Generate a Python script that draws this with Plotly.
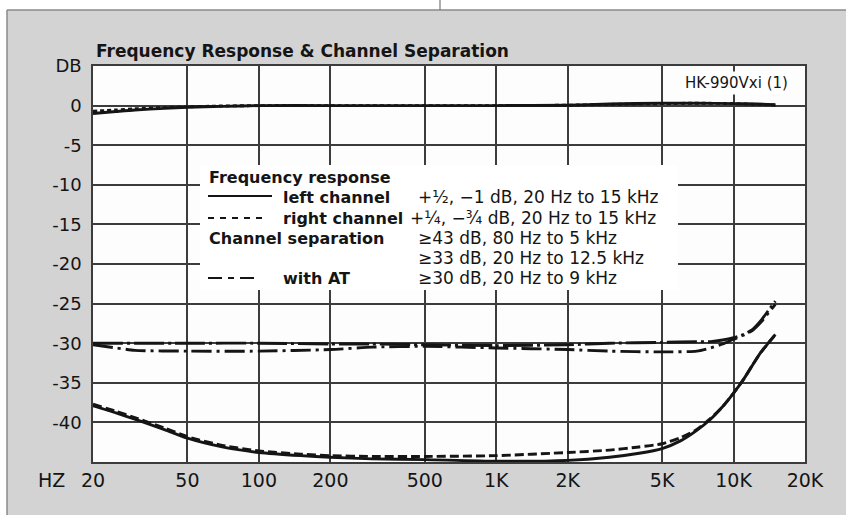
import plotly.graph_objects as go

# ---------------- data ----------------
fr_freq = [20, 25, 30, 40, 50, 70, 100, 200, 500, 1000, 2000, 3000, 5000, 7000, 10000, 12500, 15000]
fr_left = [-1.0, -0.75, -0.55, -0.35, -0.2, -0.1, 0, 0, 0, 0, 0.05, 0.2, 0.3, 0.3, 0.25, 0.2, 0.1]
fr_right = [-0.7, -0.55, -0.4, -0.25, -0.15, -0.05, 0, 0, 0, 0, 0.05, 0.15, 0.25, 0.3, 0.25, 0.15, 0.05]

sep_freq = [20, 25, 30, 40, 50, 70, 100, 150, 200, 300, 500, 1000, 2000, 3000, 4000, 5000,
            6000, 7000, 8000, 9000, 10000, 11000, 12000, 13000, 14000, 15000]
sep_left = [-37.9, -38.8, -39.6, -40.9, -42.0, -43.1, -43.8, -44.2, -44.4, -44.6, -44.7, -44.9,
            -44.8, -44.4, -43.9, -43.3, -42.3, -41.0, -39.6, -38.0, -36.3, -34.6, -32.8, -31.2, -30.0, -28.9]
sep_right = [-37.7, -38.6, -39.4, -40.7, -41.8, -42.9, -43.6, -44.0, -44.2, -44.3, -44.3, -44.2,
             -43.8, -43.5, -43.1, -42.7, -41.9, -40.9, -39.5, -38.0, -36.3, -34.6, -32.8, -31.2, -30.0, -28.9]

at_freq = [20, 25, 30, 50, 100, 200, 300, 500, 1000, 2000, 3000, 5000, 7000, 8000, 9000,
           10000, 11000, 12000, 13000, 14000, 15000]
at_upper = [-30.0, -30.0, -30.0, -30.0, -30.0, -30.1, -30.1, -30.2, -30.3, -30.2, -30.0, -29.9,
            -29.8, -29.8, -29.6, -29.3, -28.9, -28.3, -27.2, -25.9, -24.7]
at_lower = [-30.2, -30.6, -30.9, -31.0, -31.0, -30.8, -30.5, -30.4, -30.6, -30.8, -31.0, -31.1,
            -31.0, -30.6, -30.1, -29.5, -29.0, -28.4, -27.4, -26.2, -25.1]

x_ticks = [20, 50, 100, 200, 500, 1000, 2000, 5000, 10000, 20000]
x_labels = ["20", "50", "100", "200", "500", "1K", "2K", "5K", "10K", "20K"]
y_ticks = [5, 0, -5, -10, -15, -20, -25, -30, -35, -40]
y_labels = ["DB", "0", "-5", "-10", "-15", "-20", "-25", "-30", "-35", "-40"]

title_text = "Frequency Response &amp; Channel Separation"
model_text = "HK-990Vxi (1)"

# ---------------- geometry helpers (pixel -> paper) ----------------
W, H = 846, 515
L, R, T, B = 93, 805, 66, 462
def px(x):
    return (x - L) / (R - L)
def py(y):
    return (B - y) / (B - T)

FONT = "DejaVu Sans"
INK = "#151515"

fig = go.Figure()

def add(xs, ys, dash, width=2.9):
    fig.add_trace(go.Scatter(x=xs, y=ys, mode="lines",
                             line=dict(color=INK, width=width, dash=dash, shape="spline", smoothing=0.6),
                             showlegend=False, hoverinfo="skip"))

add(fr_freq, fr_left, "solid")
add(fr_freq, fr_right, "4px,3px")
add(at_freq, at_upper, "30px,4px,3px,4px")
add(at_freq, at_lower, "20px,5px,3px,5px")
add(sep_freq, sep_left, "solid")
add(sep_freq, sep_right, "9px,4px")

shapes = []
# white strips outside the grey card
shapes.append(dict(type="rect", xref="paper", yref="paper", x0=px(0), x1=px(W), y0=py(10), y1=py(0),
                   fillcolor="white", line=dict(width=0), layer="below"))
shapes.append(dict(type="rect", xref="paper", yref="paper", x0=px(0), x1=px(7), y0=py(H), y1=py(0),
                   fillcolor="white", line=dict(width=0), layer="below"))
shapes.append(dict(type="line", xref="paper", yref="paper", x0=px(7), x1=px(W), y0=py(10), y1=py(10),
                   line=dict(color="#8a8a8a", width=1.5), layer="below"))
shapes.append(dict(type="line", xref="paper", yref="paper", x0=px(7), x1=px(7), y0=py(10), y1=py(H),
                   line=dict(color="#8a8a8a", width=1.5), layer="below"))
shapes.append(dict(type="line", xref="paper", yref="paper", x0=px(440), x1=px(440), y0=py(0), y1=py(10),
                   line=dict(color="#777777", width=1.2), layer="below"))
# legend box (white, hides grid)
shapes.append(dict(type="rect", xref="paper", yref="paper", x0=px(200), x1=px(678), y0=py(290), y1=py(165),
                   fillcolor="white", line=dict(width=0), layer="above"))
# legend samples
shapes.append(dict(type="line", xref="paper", yref="paper", x0=px(208), x1=px(272), y0=py(196), y1=py(196),
                   line=dict(color=INK, width=1.8), layer="above"))
shapes.append(dict(type="line", xref="paper", yref="paper", x0=px(208), x1=px(263), y0=py(218), y1=py(218),
                   line=dict(color=INK, width=1.8, dash="6px,6px"), layer="above"))
shapes.append(dict(type="line", xref="paper", yref="paper", x0=px(208), x1=px(256), y0=py(278), y1=py(278),
                   line=dict(color=INK, width=1.8, dash="14px,6px,6px,6px"), layer="above"))

ann = []
def text(s, x, y, size, bold=False, xanchor="left", **kw):
    ann.append(dict(text=("<b>%s</b>" % s) if bold else s, xref="paper", yref="paper",
                    x=px(x), y=py(y), xanchor=xanchor, yanchor="middle", showarrow=False,
                    font=dict(family=FONT, size=size, color=INK), **kw))

text(title_text, 94, 51, 17, bold=True)
text(model_text, 791, 83, 15, xanchor="right", bgcolor="white", borderpad=2)
text("HZ", 51, 480, 19, xanchor="center")

text("Frequency response", 207, 177, 16, bold=True)
text("left channel", 281, 197, 16, bold=True)
text("+½, −1 dB, 20 Hz to 15 kHz", 416, 197, 17)
text("right channel", 281, 218, 16, bold=True)
text("+¼, −¾ dB, 20 Hz to 15 kHz", 408, 218, 17)
text("Channel separation", 207, 238, 16, bold=True)
text("≥43 dB, 80 Hz to 5 kHz", 416, 238, 17)
text("≥33 dB, 20 Hz to 12.5 kHz", 416, 258, 17)
text("with AT", 281, 278, 16, bold=True)
text("≥30 dB, 20 Hz to 9 kHz", 416, 278, 17)

GRID = "#3c3c3c"
fig.update_layout(
    width=W, height=H,
    margin=dict(l=L, r=W - R, t=T, b=H - B, pad=0),
    paper_bgcolor="#d3d3d3",
    plot_bgcolor="#fdfdfd",
    showlegend=False,
    shapes=shapes,
    annotations=ann,
    font=dict(family=FONT, color=INK),
    xaxis=dict(type="log", range=[1.30103, 4.30103], tickvals=x_ticks, ticktext=x_labels,
               showgrid=True, gridcolor=GRID, gridwidth=1.5, zeroline=False,
               showline=True, linecolor=GRID, linewidth=1.5, mirror=True,
               ticks="", tickfont=dict(family=FONT, size=19, color=INK), ticklabelstandoff=0),
    yaxis=dict(range=[-45, 5], tickvals=y_ticks, ticktext=y_labels,
               showgrid=True, gridcolor=GRID, gridwidth=1.5, zeroline=False,
               showline=True, linecolor=GRID, linewidth=1.5, mirror=True,
               ticks="", tickfont=dict(family=FONT, size=18, color=INK), ticklabelstandoff=6),
)

fig.write_html("out.html", config={"displayModeBar": False},
               post_script="document.body.style.margin='0px';document.body.style.overflow='hidden';")
